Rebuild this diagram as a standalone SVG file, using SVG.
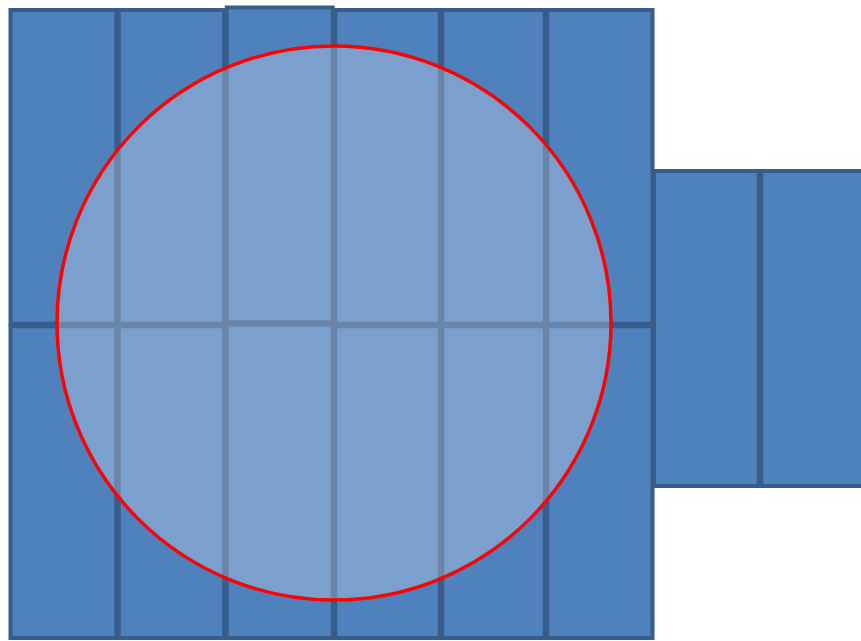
<svg xmlns="http://www.w3.org/2000/svg" width="861" height="641" viewBox="0 0 861 641">
<style>
.cell{fill:#4f81bd;stroke:#385d8a;stroke-width:4}
.circ{fill:#ffffff;fill-opacity:0.25;stroke:#ff0000;stroke-width:3.5}
</style>
<rect width="861" height="641" fill="#ffffff"/>
<g id="grid">
<rect id="c1t" class="cell" x="10.5" y="10" width="105.75" height="313.75"/>
<rect id="c2t" class="cell" x="118.75" y="10" width="105.5" height="313.75"/>
<rect id="c3t" class="cell" x="226.75" y="7.5" width="106" height="314.75"/>
<rect id="c4t" class="cell" x="335.25" y="10" width="104.5" height="313.75"/>
<rect id="c5t" class="cell" x="442.25" y="10" width="102.5" height="313.75"/>
<rect id="c6t" class="cell" x="547.25" y="10" width="105.25" height="313.75"/>
<rect id="c1b" class="cell" x="10.5" y="326.25" width="105.75" height="311.75"/>
<rect id="c2b" class="cell" x="118.75" y="326.25" width="105.5" height="311.75"/>
<rect id="c3b" class="cell" x="226.75" y="324.75" width="106" height="313.25"/>
<rect id="c4b" class="cell" x="335.25" y="326.25" width="104.5" height="311.75"/>
<rect id="c5b" class="cell" x="442.25" y="326.25" width="102.5" height="311.75"/>
<rect id="c6b" class="cell" x="547.25" y="326.25" width="105.25" height="311.75"/>
<rect id="r1" class="cell" x="654" y="171" width="104.75" height="315"/>
<rect id="r2" class="cell" x="761.25" y="171" width="106" height="315"/>
</g>
<g id="circle">
<circle class="circ" cx="334" cy="323" r="277"/>
</g>
</svg>
